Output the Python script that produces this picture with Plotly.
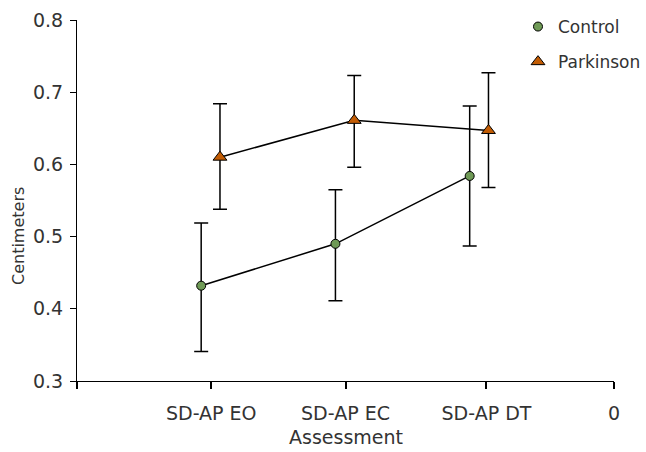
import plotly.graph_objects as go

categories = ["SD-AP EO", "SD-AP EC", "SD-AP DT"]
cat_index = [1, 2, 3]
control_mean = [0.432, 0.490, 0.584]
control_err_up = [0.087, 0.075, 0.097]
control_err_dn = [0.091, 0.079, 0.097]
park_mean = [0.610, 0.661, 0.647]
park_err_up = [0.074, 0.062, 0.080]
park_err_dn = [0.072, 0.065, 0.079]
tick_vals = [0, 1, 2, 3.05, 4]
tick_text = ["", "SD-AP EO", "SD-AP EC", "SD-AP DT", "0"]

ctrl_off = -0.075
park_off = 0.065
ctrl_x = [i + ctrl_off for i in cat_index]
park_x = [i + park_off for i in cat_index]

FONT = "DejaVu Sans"
TXT = "#333333"
GREEN = "#6f9a56"
ORANGE = "#c25c04"
FS = 19

fig = go.Figure()
fig.add_trace(go.Scatter(
    x=ctrl_x, y=control_mean, mode="lines+markers", name="Control", showlegend=False,
    line=dict(color="black", width=1.5),
    marker=dict(symbol="circle", size=9, color=GREEN, line=dict(color="black", width=1)),
    error_y=dict(type="data", symmetric=False, array=control_err_up, arrayminus=control_err_dn,
                 color="black", thickness=1.5, width=7),
))
fig.add_trace(go.Scatter(
    x=park_x, y=park_mean, mode="lines+markers", name="Parkinson", showlegend=False,
    line=dict(color="black", width=1.5),
    marker=dict(symbol="triangle-up", size=12, color=ORANGE, line=dict(color="black", width=1)),
    error_y=dict(type="data", symmetric=False, array=park_err_up, arrayminus=park_err_dn,
                 color="black", thickness=1.5, width=7),
))
# legend entries
fig.add_trace(go.Scatter(
    x=[None], y=[None], mode="markers", name="Control", legendgroup="a",
    marker=dict(symbol="circle", size=9, color=GREEN, line=dict(color="black", width=1)),
))
fig.add_trace(go.Scatter(
    x=[None], y=[None], mode="markers", name="Parkinson", legendgroup="b",
    marker=dict(symbol="triangle-up", size=12, color=ORANGE, line=dict(color="black", width=1)),
))

fig.update_layout(
    width=646, height=452,
    margin=dict(l=77, r=32, t=20, b=71, autoexpand=False),
    paper_bgcolor="white", plot_bgcolor="white",
    font=dict(family=FONT, size=FS, color=TXT),
    showlegend=True,
    legend=dict(x=518 / 646, y=1 - 9 / 452, xref="container", yref="container",
                xanchor="left", yanchor="top", bgcolor="rgba(0,0,0,0)",
                font=dict(family=FONT, size=17, color=TXT), tracegroupgap=10,
                itemwidth=30),
    xaxis=dict(
        range=[0, 4], tickmode="array", tickvals=tick_vals, ticktext=tick_text,
        showgrid=False, zeroline=False, showline=True, linecolor="black", linewidth=1,
        ticks="outside", ticklen=7, tickcolor="black", tickwidth=1.5,
        tickfont=dict(family=FONT, size=FS, color=TXT), automargin=False,
        ticklabelstandoff=8,
    ),
    yaxis=dict(
        range=[0.3, 0.8], tickmode="array", tickvals=[0.3, 0.4, 0.5, 0.6, 0.7, 0.8],
        ticktext=["0.3", "0.4", "0.5", "0.6", "0.7", "0.8"],
        showgrid=False, zeroline=False, showline=True, linecolor="black", linewidth=1,
        ticks="outside", ticklen=6, tickcolor="black", tickwidth=1,
        tickfont=dict(family=FONT, size=FS, color=TXT), automargin=False,
        ticklabelstandoff=3,
    ),
    annotations=[
        dict(text="Assessment", xref="paper", yref="paper", x=0.5, y=-(437 - 381) / 361,
             xanchor="center", yanchor="middle", showarrow=False,
             font=dict(family=FONT, size=FS, color=TXT)),
        dict(text="Centimeters", xref="paper", yref="paper", x=-(77 - 18) / 537,
             y=(381 - 236) / 361, xanchor="center", yanchor="middle", textangle=-90,
             showarrow=False, font=dict(family=FONT, size=16, color=TXT)),
    ],
)

fig.write_html("out.html", config={"displayModeBar": False},
               post_script="document.body.style.margin='0';document.body.style.overflow='hidden';")
